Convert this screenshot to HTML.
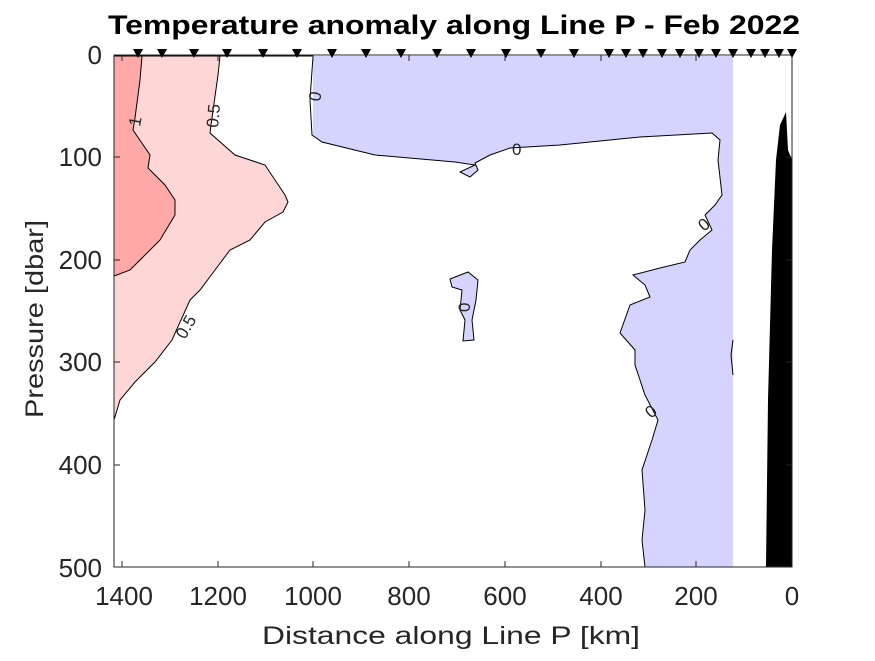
<!DOCTYPE html><html><head><style>body{margin:0;background:#fff}svg text{font-family:"Liberation Sans",sans-serif;fill:#262626}</style></head><body>
<svg width="875" height="656" viewBox="0 0 875 656" xmlns="http://www.w3.org/2000/svg">
<rect x="313" y="56" width="420" height="511" fill="#d4d4ff"/>
<path d="M313,56 L310,100 L312,135 L322,142 L375,155 L455,162 L475,165 L460,172 L470,177 L478,170 L475,163 L490,155 L510,148 L560,145 L640,137 L712,133 L720,140 L718,160 L722,195 L715,205 L705,215 L712,230 L700,240 L690,250 L685,262 L660,268 L633,275 L645,285 L650,297 L630,305 L620,333 L635,350 L635,365 L640,380 L645,395 L658,420 L652,440 L642,470 L645,510 L642,540 L645,567 L114,567 L114,56 Z" fill="#fff" stroke="#000" stroke-width="1"/>
<path d="M450,279 L468,272 L478,280 L476,300 L472,320 L474,340 L463,341 L465,320 L460,310 L462,290 L452,287 Z" fill="#d4d4ff" stroke="#000" stroke-width="1"/>
<path d="M733,340 L731,355 L733,375" fill="none" stroke="#000"/>
<path d="M114,56 L220,56 L218,75 L211,125 L210,133 L235,155 L265,165 L275,180 L285,195 L288,202 L283,212 L265,222 L250,240 L230,250 L215,270 L200,290 L190,300 L172,340 L155,362 L135,382 L120,400 L114,420 Z" fill="#ffd6d6" stroke="#000" stroke-width="1"/>
<path d="M114,56 L142,56 L140,80 L135,118 L133,130 L150,155 L148,168 L165,185 L175,200 L175,215 L160,240 L142,258 L130,270 L114,276 Z" fill="#ffa8a8" stroke="#000" stroke-width="1"/>
<path d="M766,567 L768,400 L772,250 L776,160 L780,125 L786,112 L788,150 L792,160 L792,567 Z" fill="#000"/>
<g font-size="17" fill="#000">
<text transform="translate(140,127) rotate(-80)">1</text>
<text transform="translate(218,128) rotate(-85)">0.5</text>
<text transform="translate(185,340) rotate(-60)">0.5</text>
<text transform="translate(320,102) rotate(-80)">0</text>
<text x="512" y="155">0</text>
<text transform="translate(470,312) rotate(-90)">0</text>
<text transform="translate(704,232) rotate(-40)">0</text>
<text transform="translate(651,419) rotate(-40)">0</text>
</g>
<rect x="114" y="55" width="678" height="512" fill="none" stroke="#262626" stroke-width="1"/>
<g stroke="#262626">
<line x1="122" y1="567" x2="122" y2="561"/><line x1="218" y1="567" x2="218" y2="561"/><line x1="313" y1="567" x2="313" y2="561"/><line x1="409" y1="567" x2="409" y2="561"/><line x1="505" y1="567" x2="505" y2="561"/><line x1="601" y1="567" x2="601" y2="561"/><line x1="696" y1="567" x2="696" y2="561"/>
<line x1="122" y1="55" x2="122" y2="61"/><line x1="218" y1="55" x2="218" y2="61"/><line x1="313" y1="55" x2="313" y2="61"/><line x1="409" y1="55" x2="409" y2="61"/><line x1="505" y1="55" x2="505" y2="61"/><line x1="601" y1="55" x2="601" y2="61"/><line x1="696" y1="55" x2="696" y2="61"/>
<line x1="114" y1="157" x2="120" y2="157"/><line x1="114" y1="260" x2="120" y2="260"/><line x1="114" y1="362" x2="120" y2="362"/><line x1="114" y1="465" x2="120" y2="465"/>
<line x1="792" y1="157" x2="786" y2="157"/><line x1="792" y1="260" x2="786" y2="260"/><line x1="792" y1="362" x2="786" y2="362"/><line x1="792" y1="465" x2="786" y2="465"/>
</g>
<g fill="#000">
<path d="M133,49h10l-5,9z"/><path d="M157,49h10l-5,9z"/><path d="M189,49h10l-5,9z"/><path d="M222,49h10l-5,9z"/><path d="M258,49h10l-5,9z"/><path d="M292,49h10l-5,9z"/><path d="M327,49h10l-5,9z"/><path d="M361,49h10l-5,9z"/><path d="M396,49h10l-5,9z"/><path d="M432,49h10l-5,9z"/><path d="M466,49h10l-5,9z"/><path d="M501,49h10l-5,9z"/><path d="M536,49h10l-5,9z"/><path d="M569,49h10l-5,9z"/><path d="M604,49h10l-5,9z"/><path d="M621,49h10l-5,9z"/><path d="M638,49h10l-5,9z"/><path d="M657,49h10l-5,9z"/><path d="M675,49h10l-5,9z"/><path d="M694,49h10l-5,9z"/><path d="M711,49h10l-5,9z"/><path d="M728,49h10l-5,9z"/><path d="M746,49h10l-5,9z"/><path d="M760,49h10l-5,9z"/><path d="M774,49h10l-5,9z"/><path d="M787,49h10l-5,9z"/>
</g>
<g font-size="26" text-anchor="middle">
<text x="124" y="605">1400</text><text x="218" y="605">1200</text><text x="313" y="605">1000</text><text x="409" y="605">800</text><text x="505" y="605">600</text><text x="601" y="605">400</text><text x="696" y="605">200</text><text x="792" y="605">0</text>
</g>
<g font-size="26" text-anchor="end">
<text x="102" y="64">0</text><text x="102" y="166">100</text><text x="102" y="269">200</text><text x="102" y="371">300</text><text x="102" y="474">400</text><text x="102" y="577">500</text>
</g>
<text x="262" y="644" font-size="25" textLength="378" lengthAdjust="spacingAndGlyphs">Distance along Line P [km]</text>
<text transform="translate(43,418) rotate(-90)" font-size="25" textLength="198" lengthAdjust="spacingAndGlyphs">Pressure [dbar]</text>
<text x="108" y="34" font-size="27" font-weight="bold" textLength="692" lengthAdjust="spacingAndGlyphs" style="fill:#000">Temperature anomaly along Line P - Feb 2022</text>
</svg></body></html>
